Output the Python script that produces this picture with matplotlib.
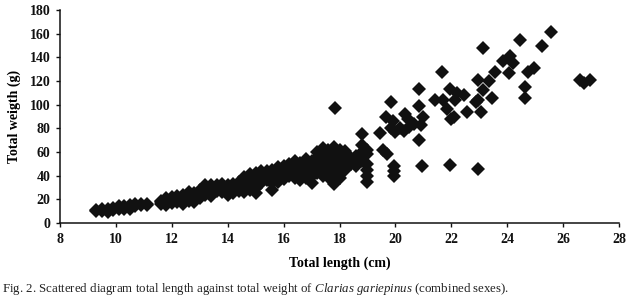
import matplotlib
matplotlib.use("Agg")
import matplotlib.pyplot as plt

# Dense band: (length, list of weights)
band_lengths = [9.3, 9.5, 9.7, 9.9, 10.1, 10.3, 10.5, 10.7, 10.9, 11.1,
                11.6, 11.8, 12.0, 12.2, 12.4, 12.6, 12.8, 13.0, 13.2, 13.4,
                13.6, 13.8, 14.0, 14.2, 14.4, 14.6, 14.8, 15.0, 15.2, 15.4,
                15.6, 15.8, 16.0, 16.2, 16.4, 16.6, 16.8, 17.0, 17.2, 17.4,
                17.6, 17.8, 18.0, 18.2, 18.4, 18.6, 18.8, 19.0]
band_weights = [[10, 11], [10, 12], [9, 10, 12], [11, 13], [12, 14], [12, 14],
                [12, 13, 15], [14, 16], [15, 16], [15, 16],
                [16, 18, 19], [15, 18, 21], [17, 20, 22], [18, 21, 23], [16, 20, 24],
                [19, 23, 26], [18, 22, 25], [21, 25, 28], [24, 28, 32], [23, 29, 32],
                [27, 30, 32], [26, 30, 33], [24, 28, 32], [25, 29, 33], [27, 31, 35],
                [26, 30, 35, 39], [28, 33, 38, 41], [25, 30, 36, 42], [34, 38, 42, 44], [36, 41, 44],
                [28, 34, 40, 45], [35, 41, 47], [37, 43, 48], [40, 45, 50], [38, 43, 48, 52],
                [36, 41, 46, 51], [38, 44, 49, 54], [34, 40, 46, 52], [42, 48, 55, 60],
                [40, 46, 52, 58, 63], [39, 45, 51, 57, 62], [33, 40, 47, 54, 60, 64],
                [38, 44, 50, 56, 62], [45, 51, 57, 61], [50, 55], [48, 53, 57],
                [52, 60, 66, 75], [35, 40, 45, 50, 58, 62]]

# Scattered larger fish
scatter_lengths = [17.85, 19.45, 19.55, 19.7, 19.65, 19.85, 19.9, 19.85, 19.95, 19.95,
                   19.95, 20.0, 20.15, 20.3, 20.35, 20.45, 20.5, 20.65, 20.85, 20.85,
                   20.85, 20.9, 21.0, 20.95, 21.4, 21.65, 21.7, 21.85, 21.95, 21.95,
                   22.0, 22.1, 22.2, 22.15, 22.45, 22.55, 22.95, 22.95, 22.9, 23.05,
                   22.95, 23.15, 23.15, 23.35, 23.45, 23.55, 23.85, 24.05, 24.1, 24.2,
                   24.45, 24.65, 24.65, 24.75, 24.95, 25.25, 25.55, 26.6, 26.75, 26.95]
scatter_weights = [97, 76, 62, 58, 90, 102, 86, 80, 48, 44,
                   40, 77, 80, 78, 92, 88, 81, 84, 113, 99,
                   70, 83, 90, 48, 104, 128, 104, 96, 113, 49,
                   88, 90, 110, 104, 108, 94, 121, 104, 102, 94,
                   46, 148, 112, 120, 106, 128, 137, 127, 141, 135,
                   155, 115, 106, 128, 131, 150, 161, 121, 118, 121]

x_ticks = [8, 10, 12, 14, 16, 18, 20, 22, 24, 26, 28]
y_ticks = [0, 20, 40, 60, 80, 100, 120, 140, 160, 180]

lengths = []
weights = []
for L, ws in zip(band_lengths, band_weights):
    for w in ws:
        lengths.append(L)
        weights.append(w)
lengths += scatter_lengths
weights += scatter_weights

plt.rcParams['font.family'] = ['Liberation Serif', 'DejaVu Serif']
plt.rcParams['mathtext.fontset'] = 'custom'
plt.rcParams['mathtext.rm'] = 'Liberation Serif'
plt.rcParams['mathtext.it'] = 'Liberation Serif:italic'

fig = plt.figure(figsize=(6.31, 2.99), dpi=100)
ax = fig.add_axes([60/631, (299-223)/299, (619-60)/631, (223-10)/299])

ax.plot(lengths, weights, linestyle='none', marker='D', markersize=7,
        color='#111111', markeredgewidth=0)

ax.set_xlim(8, 28)
ax.set_ylim(0, 180)
ax.set_xticks(x_ticks)
ax.set_yticks(y_ticks)
for lab in ax.get_xticklabels() + ax.get_yticklabels():
    lab.set_fontweight('bold')
    lab.set_fontsize(10)
ax.tick_params(direction='out', length=3, width=1, colors='#111111', pad=4)
for s in ['top', 'right']:
    ax.spines[s].set_visible(False)
for s in ['left', 'bottom']:
    ax.spines[s].set_linewidth(1.1)
    ax.spines[s].set_color('#111111')

ax.set_xlabel('Total length (cm)', fontsize=10, fontweight='bold', labelpad=8)
ax.set_ylabel('Total weigth (g)', fontsize=10, fontweight='bold', labelpad=6)

fig.text(2/631, 1 - 289/299,
         r'Fig. 2. Scattered diagram total length against total weight of $\it{Clarias\ gariepinus}$ (combined sexes).',
         fontsize=9.3, va='center', ha='left', color='#222222')

fig.savefig('out.png', dpi=100)
